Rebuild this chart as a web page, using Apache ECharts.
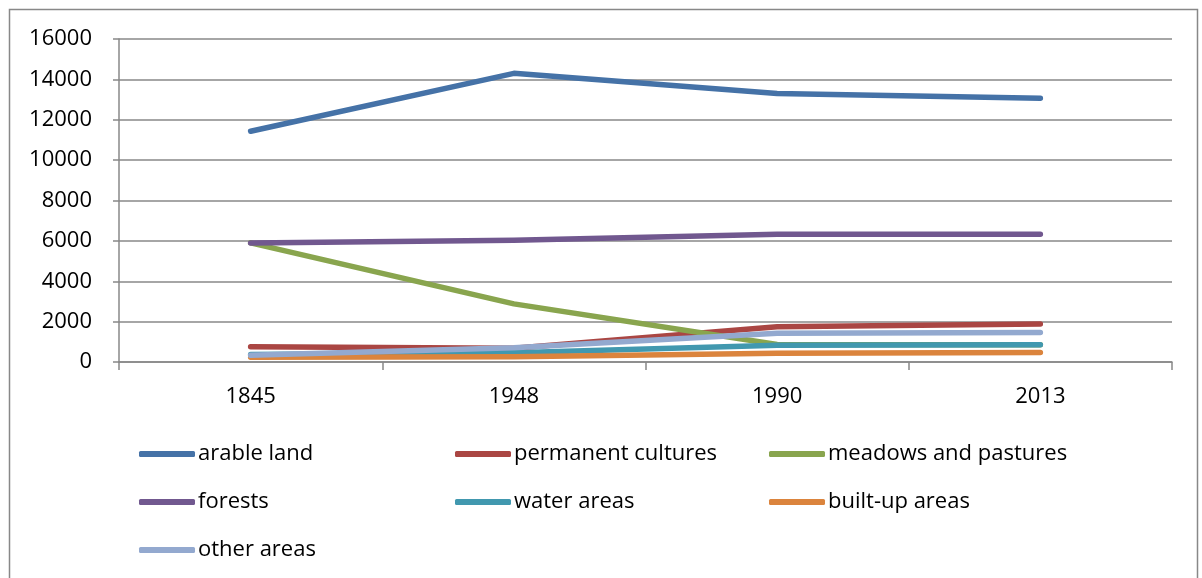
<!DOCTYPE html>
<html><head><meta charset="utf-8">
<script src="https://cdn.jsdelivr.net/npm/echarts@6/dist/echarts.min.js"></script>
<style>html,body{margin:0;padding:0;background:#fff}#c{width:1202px;height:578px}</style>
</head><body><div id="c"></div>
<script>
const categories = ['1845', '1948', '1990', '2013'];
const arableLand = [11430, 14300, 13300, 13070];
const permanentCultures = [750, 680, 1750, 1880];
const meadowsPastures = [5900, 2880, 870, 860];
const forests = [5900, 6030, 6330, 6330];
const waterAreas = [370, 460, 830, 860];
const builtUpAreas = [240, 260, 430, 470];
const otherAreas = [330, 700, 1420, 1460];
const yTicks = { min: 0, max: 16000, interval: 2000 };

const names = ['arable land', 'permanent cultures', 'meadows and pastures', 'forests', 'water areas', 'built-up areas', 'other areas'];
const values = [arableLand, permanentCultures, meadowsPastures, forests, waterAreas, builtUpAreas, otherAreas];
const colors = ['#4572A7', '#AA4643', '#89A54E', '#71588F', '#4198AF', '#DB843D', '#93A9CF'];

const font = 'Open Sans';
const legendBase = {
  orient: 'vertical', icon: 'roundRect', itemWidth: 56, itemHeight: 6, itemGap: 26, padding: 0,
  textStyle: { fontFamily: font, fontSize: 22, color: '#000', padding: [0, 0, 0, -2] }, top: 443
};

const chart = echarts.init(document.getElementById('c'), null, { renderer: 'canvas' });
chart.setOption({
  animation: false,
  color: colors,
  graphic: [{ type: 'rect', shape: { x: 9.5, y: 9.5, width: 1188, height: 600 }, style: { fill: 'none', stroke: '#888', lineWidth: 1.5 } }],
  grid: { left: 119, right: 30, top: 39, bottom: 216 },
  legend: [
    Object.assign({}, legendBase, { left: 139, data: ['arable land', 'forests', 'other areas'] }),
    Object.assign({}, legendBase, { left: 455, data: ['permanent cultures', 'water areas'] }),
    Object.assign({}, legendBase, { left: 769, data: ['meadows and pastures', 'built-up areas'] })
  ],
  xAxis: {
    type: 'category', data: categories, boundaryGap: true,
    axisLine: { lineStyle: { color: '#888', width: 1.5 } },
    axisTick: { show: true, length: 8, lineStyle: { color: '#888', width: 1.5 } },
    axisLabel: { fontFamily: font, fontSize: 22, color: '#000', margin: 24 }
  },
  yAxis: {
    type: 'value', min: yTicks.min, max: yTicks.max, interval: yTicks.interval,
    axisLine: { show: true, lineStyle: { color: '#888', width: 1.5 } },
    axisTick: { show: true, length: 6, lineStyle: { color: '#888', width: 1.5 } },
    splitLine: { lineStyle: { color: '#888', width: 1.5 } },
    axisLabel: { fontFamily: font, fontSize: 22, color: '#000', margin: 27, formatter: v => String(v) }
  },
  series: names.map((n, i) => ({
    name: n, type: 'line', data: values[i], showSymbol: false, symbol: 'none',
    lineStyle: { width: 5.5, color: colors[i], cap: 'round', join: 'round' },
    itemStyle: { color: colors[i] }
  }))
});
</script></body></html>
